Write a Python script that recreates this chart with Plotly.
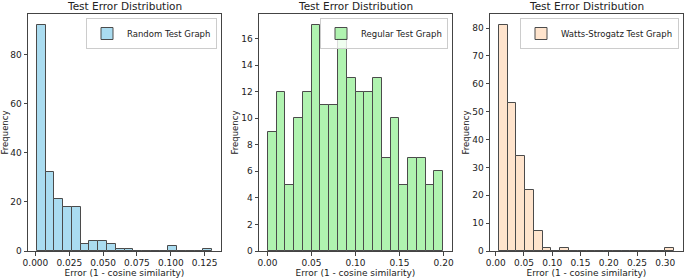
import numpy as np
import plotly.graph_objects as go

# ---- data ----
random_counts = [92, 32, 21, 18, 18, 3, 4, 4, 3, 1, 1, 0, 0, 0, 0, 2, 0, 0, 0, 1]
random_range = (0.0010, 0.1306)

regular_counts = [9, 12, 5, 10, 12, 17, 11, 11, 16, 13, 12, 12, 13, 7, 10, 5, 7, 7, 5, 6]
regular_range = (0.0004, 0.1996)

ws_counts = [81, 53, 34, 22, 7, 1, 0, 1, 0, 0, 0, 0, 0, 0, 0, 0, 0, 0, 0, 1]
ws_range = (0.0054, 0.3158)

names = ["Random Test Graph", "Regular Test Graph", "Watts-Strogatz Test Graph"]
colors = ["#87CEEB", "#90EE90", "#FFDAB9"]
x_ticks = [
    [0.000, 0.025, 0.050, 0.075, 0.100, 0.125],
    [0.00, 0.05, 0.10, 0.15, 0.20],
    [0.00, 0.05, 0.10, 0.15, 0.20, 0.25, 0.30],
]
x_fmt = [".3f", ".2f", ".2f"]
y_dtick = [20, 2, 10]
title = "Test Error Distribution"
xlabel = "Error (1 - cosine similarity)"
ylabel = "Frequency"

W, H = 685, 278
# axes pixel boxes (left, right) and common top/bottom
boxes = [(28, 221), (259, 452), (490, 683)]
top, bottom = 14, 251

FONT = "DejaVu Sans"
TXT = "#222222"

fig = go.Figure()
series = [(random_counts, random_range), (regular_counts, regular_range), (ws_counts, ws_range)]
for i, ((counts, (a, b)), name, col) in enumerate(zip(series, names, colors)):
    n = len(counts)
    w = (b - a) / n
    centers = a + w * (np.arange(n) + 0.5)
    sfx = "" if i == 0 else str(i + 1)
    fig.add_trace(go.Bar(
        x=centers, y=counts, width=w, name=name,
        marker=dict(color=col, line=dict(color="black", width=1)),
        opacity=0.7,
        xaxis="x" + sfx, yaxis="y" + sfx,
        legend="legend" + sfx, showlegend=True,
    ))
    span = b - a
    xr = [a - 0.05 * span, b + 0.05 * span]
    yr = [0, max(counts) * 1.05]
    l, r = boxes[i]
    dom_x = [l / W, r / W]
    dom_y = [1 - bottom / H, 1 - top / H]
    axcommon = dict(showline=True, linecolor="#444", linewidth=1, mirror=True,
                    ticks="outside", ticklen=3.5, tickcolor="#444", tickwidth=1,
                    showgrid=False, zeroline=False, automargin=False,
                    tickfont=dict(family=FONT, size=9, color=TXT))
    fig.update_layout(**{
        "xaxis" + sfx: dict(domain=dom_x, range=xr, anchor="y" + sfx,
                            tickvals=x_ticks[i], tickformat=x_fmt[i],
                            title=dict(text=xlabel, font=dict(family=FONT, size=9, color=TXT), standoff=1),
                            **axcommon),
        "yaxis" + sfx: dict(domain=dom_y, range=yr, anchor="x" + sfx,
                            dtick=y_dtick[i], tick0=0,
                            title=dict(text=ylabel, font=dict(family=FONT, size=8.5, color=TXT), standoff=1),
                            **axcommon),
        "legend" + sfx: dict(x=(r - 4) / W, y=1 - (top + 4) / H, xanchor="right", yanchor="top",
                             xref="paper", yref="paper",
                             bgcolor="rgba(255,255,255,0.8)", bordercolor="#cccccc", borderwidth=1,
                             font=dict(family=FONT, size=8.5, color=TXT),
                             itemwidth=30, tracegroupgap=0),
    })
    fig.add_annotation(text=title, xref="paper", yref="paper",
                       x=(l + r) / 2 / W, y=1 - 6.5 / H, xanchor="center", yanchor="middle",
                       showarrow=False, font=dict(family=FONT, size=10.5, color=TXT))

fig.update_layout(width=W, height=H, margin=dict(l=0, r=0, t=0, b=0),
                  paper_bgcolor="white", plot_bgcolor="white", bargap=0,
                  font=dict(family=FONT, color=TXT))
fig.write_html("out.html", config={"displayModeBar": False},
               post_script="document.body.style.margin='0';document.body.style.overflow='hidden';")
